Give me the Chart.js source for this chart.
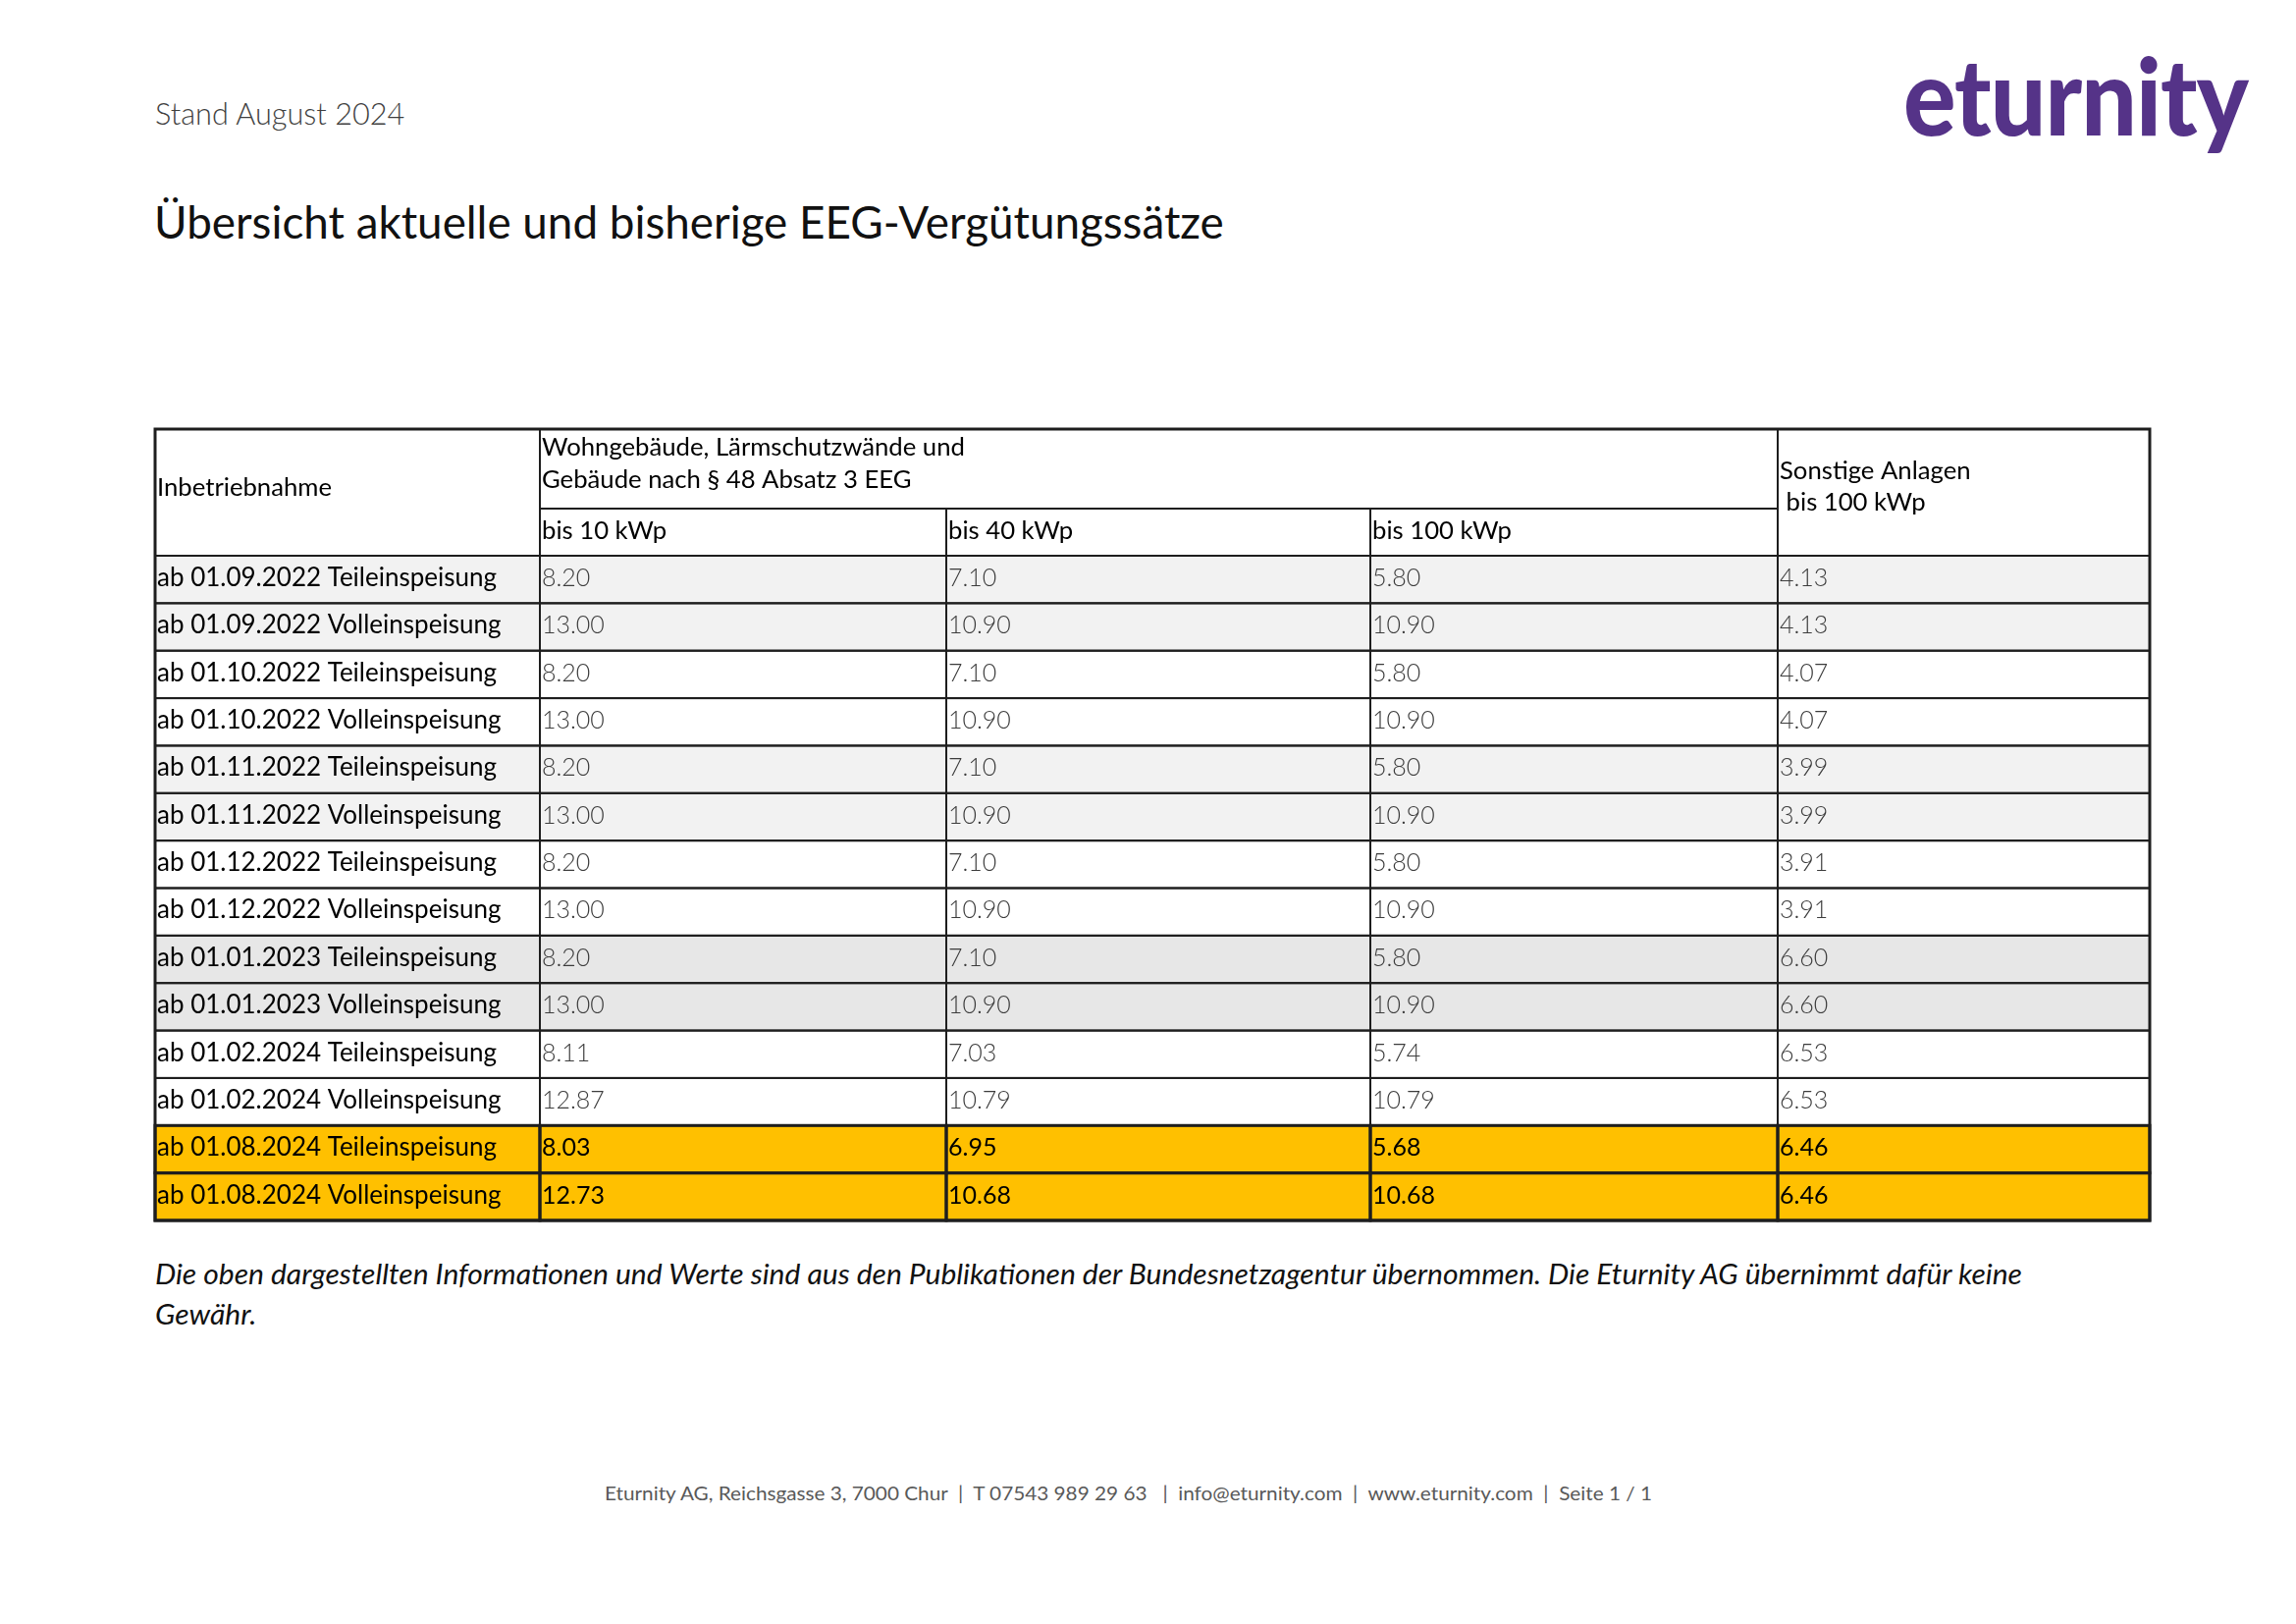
<!DOCTYPE html>
<html>
<head>
<meta charset="utf-8">
<script src="https://cdn.jsdelivr.net/npm/chart.js@4/dist/chart.umd.min.js"></script>
<style>
  html, body { margin: 0; padding: 0; background: #fff; }
  body { width: 2339px; height: 1654px; position: relative; overflow: hidden; font-family: Lato, "Open Sans", sans-serif; }
  .txt { position: absolute; white-space: pre; line-height: 1; transform-origin: left top; }
  #stand { left: 158px; top: 101px; font-size: 30.7px; font-weight: 300; color: #3f3f3f; }
  #title { left: 157px; top: 203px; font-size: 45.8px; font-weight: 400; color: #111; }
  #logo { left: 1939px; top: 42px; font-size: 108px; font-weight: 900; color: #553388; letter-spacing: -1px; }
  #note { left: 158px; top: 1277px; font-size: 28px; line-height: 41px; font-style: italic; color: #111; }
  #footer { left: 616px; top: 1511px; font-size: 19px; color: #595959; }
  #wrap { position: absolute; left: 150px; top: 430px; width: 2050px; height: 825px; }
</style>
</head>
<body>
<div class="txt" id="stand">Stand August 2024</div>
<div class="txt" id="title">Übersicht aktuelle und bisherige EEG-Vergütungssätze</div>
<div class="txt" id="logo">eturnity</div>
<div class="txt" id="note">Die oben dargestellten Informationen und Werte sind aus den Publikationen der Bundesnetzagentur übernommen. Die Eturnity AG übernimmt dafür keine
Gewähr.</div>
<div class="txt" id="footer">Eturnity AG, Reichsgasse 3, 7000 Chur  |  T 07543 989 29 63   |  info@eturnity.com  |  www.eturnity.com  |  Seite 1 / 1</div>
<div id="wrap"><canvas id="table"></canvas></div>

<script>
'use strict';

// table data
var firstHeader = 'Inbetriebnahme';
var groupHeader = ['Wohngebäude, Lärmschutzwände und', 'Gebäude nach § 48 Absatz 3 EEG'];
var sizeHeaders = ['bis 10 kWp', 'bis 40 kWp', 'bis 100 kWp'];
var otherHeader = ['Sonstige Anlagen', ' bis 100 kWp'];

var rowLabels = [
  'ab 01.09.2022 Teileinspeisung',
  'ab 01.09.2022 Volleinspeisung',
  'ab 01.10.2022 Teileinspeisung',
  'ab 01.10.2022 Volleinspeisung',
  'ab 01.11.2022 Teileinspeisung',
  'ab 01.11.2022 Volleinspeisung',
  'ab 01.12.2022 Teileinspeisung',
  'ab 01.12.2022 Volleinspeisung',
  'ab 01.01.2023 Teileinspeisung',
  'ab 01.01.2023 Volleinspeisung',
  'ab 01.02.2024 Teileinspeisung',
  'ab 01.02.2024 Volleinspeisung',
  'ab 01.08.2024 Teileinspeisung',
  'ab 01.08.2024 Volleinspeisung'
];
var bis10 = [8.20, 13.00, 8.20, 13.00, 8.20, 13.00, 8.20, 13.00, 8.20, 13.00, 8.11, 12.87, 8.03, 12.73];
var bis40 = [7.10, 10.90, 7.10, 10.90, 7.10, 10.90, 7.10, 10.90, 7.10, 10.90, 7.03, 10.79, 6.95, 10.68];
var bis100 = [5.80, 10.90, 5.80, 10.90, 5.80, 10.90, 5.80, 10.90, 5.80, 10.90, 5.74, 10.79, 5.68, 10.68];
var sonstige = [4.13, 4.13, 4.07, 4.07, 3.99, 3.99, 3.91, 3.91, 6.60, 6.60, 6.53, 6.53, 6.46, 6.46];

// layout / style (not data)
var colEdges = [0, 392, 806, 1238, 1653, 2032];
var headTop = 81, headBottom = 48;
var rowFill = ['#f2f2f2', '#f2f2f2', '#ffffff', '#ffffff', '#f2f2f2', '#f2f2f2', '#ffffff', '#ffffff',
  '#e7e7e7', '#e7e7e7', '#ffffff', '#ffffff', '#ffc000', '#ffc000'];
var highlight = [false, false, false, false, false, false, false, false, false, false, false, false, true, true];
var lineColor = '#1e1e1e';

var columns = [rowLabels, bis10, bis40, bis100, sonstige];

var datasets = [];
for (var c = 0; c < columns.length; c++) {
  datasets.push({
    data: rowLabels.map(function () { return [colEdges[c], colEdges[c + 1]]; }),
    backgroundColor: rowFill,
    borderWidth: 0,
    grouped: false,
    barPercentage: 1,
    categoryPercentage: 1
  });
}

var tablePlugin = {
  id: 'tableText',
  afterDatasetsDraw: function (chart) {
    var ctx = chart.ctx;
    var xs = chart.scales.x;
    var area = chart.chartArea;
    var ex = colEdges.map(function (v) { return xs.getPixelForValue(v); });
    ctx.save();

    // body cells: text + borders
    for (var d = 0; d < chart.data.datasets.length; d++) {
      var meta = chart.getDatasetMeta(d);
      meta.data.forEach(function (bar, i) {
        var p = bar.getProps(['x', 'base', 'y', 'height'], true);
        var left = Math.min(p.x, p.base);
        var right = Math.max(p.x, p.base);
        var top = p.y - p.height / 2;
        var txt, font, color;
        if (d === 0) {
          txt = rowLabels[i]; font = '400 26px Lato'; color = '#000';
        } else {
          txt = columns[d][i].toFixed(2);
          font = highlight[i] ? '400 25px Lato' : '300 25px Lato';
          color = highlight[i] ? '#000' : '#3c3c3c';
        }
        ctx.font = font;
        ctx.fillStyle = color;
        ctx.textBaseline = 'alphabetic';
        ctx.fillText(txt, left + 2, top + p.height * 0.64);
        ctx.strokeStyle = lineColor;
        ctx.lineWidth = highlight[i] ? 3 : 2;
        ctx.strokeRect(left, top, right - left, p.height);
      });
    }

    // header
    var y0 = area.top - headTop - headBottom;
    var y1 = area.top - headBottom;
    var y2 = area.top;
    ctx.fillStyle = '#fff';
    ctx.fillRect(ex[0], y0, ex[5] - ex[0], y2 - y0);
    ctx.strokeStyle = lineColor;
    ctx.lineWidth = 2;
    ctx.strokeRect(ex[0], y0, ex[1] - ex[0], y2 - y0);
    ctx.strokeRect(ex[1], y0, ex[4] - ex[1], y1 - y0);
    for (var k = 1; k < 4; k++) ctx.strokeRect(ex[k], y1, ex[k + 1] - ex[k], y2 - y1);
    ctx.strokeRect(ex[4], y0, ex[5] - ex[4], y2 - y0);

    ctx.fillStyle = '#000';
    ctx.font = '400 25.7px Lato';
    ctx.fillText(firstHeader, ex[0] + 2, y0 + 68);
    ctx.fillText(groupHeader[0], ex[1] + 2, y0 + 27);
    ctx.fillText(groupHeader[1], ex[1] + 2, y0 + 60);
    for (var s = 0; s < sizeHeaders.length; s++) ctx.fillText(sizeHeaders[s], ex[s + 1] + 2, y1 + 31);
    ctx.fillText(otherHeader[0], ex[4] + 2, y0 + 51);
    ctx.fillText(otherHeader[1], ex[4] + 2, y0 + 83);

    // outer frame
    ctx.lineWidth = 3;
    ctx.strokeRect(ex[0], y0, ex[5] - ex[0], area.bottom - y0);
    ctx.restore();
  }
};

function drawTable() {
  var ctx = document.getElementById('table').getContext('2d');
  new Chart(ctx, {
    type: 'bar',
    data: { labels: rowLabels, datasets: datasets },
    options: {
      indexAxis: 'y',
      responsive: true,
      maintainAspectRatio: false,
      animation: false,
      events: [],
      layout: { padding: { left: 8, right: 10, top: 7 + headTop + headBottom, bottom: 12 } },
      plugins: { legend: { display: false }, tooltip: { enabled: false } },
      scales: {
        x: { type: 'linear', min: colEdges[0], max: colEdges[colEdges.length - 1], display: false },
        y: { type: 'category', display: false }
      }
    },
    plugins: [tablePlugin]
  });
}

// squeeze text boxes to the widths seen in the reference
function fitWidth(id, w) {
  var el = document.getElementById(id);
  var r = el.getBoundingClientRect();
  el.style.transform = 'scaleX(' + (w / r.width) + ')';
}

document.fonts.ready.then(function () {
  fitWidth('logo', 351);
  fitWidth('note', 1902);
  fitWidth('footer', 1067);
  drawTable();
});
</script>
</body>
</html>
